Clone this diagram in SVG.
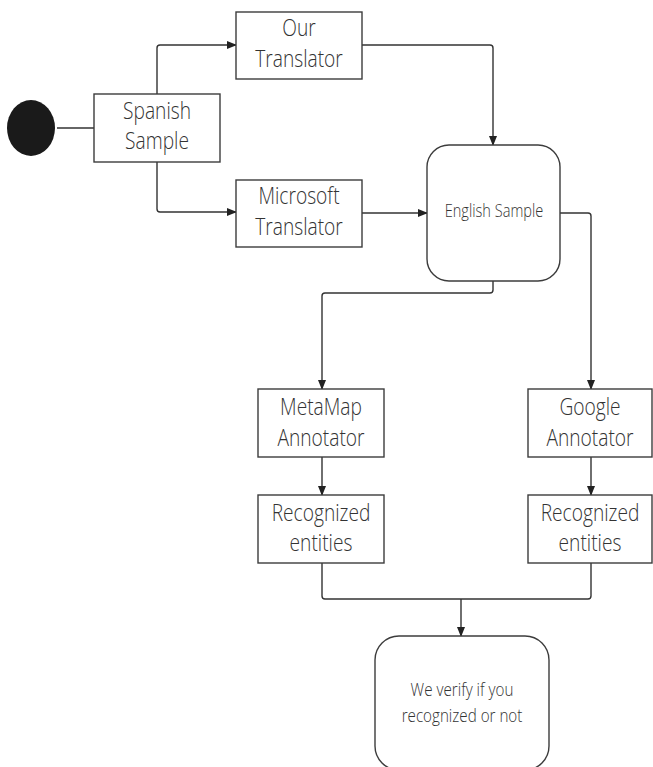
<svg xmlns="http://www.w3.org/2000/svg" width="653" height="767" viewBox="0 0 653 767">
<style>
.box{fill:#ffffff;stroke:#3c3c3c;stroke-width:1.4}
.t{font-family:"Open Sans","Liberation Sans",sans-serif;font-weight:350;font-size:19.2px;fill:#333333;text-anchor:middle}
.ts{font-family:"Open Sans","Liberation Sans",sans-serif;font-weight:350;font-size:14.6px;fill:#333333;text-anchor:middle}
.tm{font-family:"Open Sans","Liberation Sans",sans-serif;font-weight:350;font-size:15.2px;fill:#333333;text-anchor:middle}
.c{fill:none;stroke:#333333;stroke-width:1.4;stroke-linejoin:round}
</style>
<defs>
<marker id="arr" markerWidth="10" markerHeight="8" refX="9" refY="4" orient="auto" markerUnits="userSpaceOnUse">
<path d="M0,0 L10,4 L0,8 Z" fill="#222222"/>
</marker>
</defs>
<rect width="653" height="767" fill="#ffffff"/>
<g id="connectors">
<path class="c" d="M57,128 L94,128"/>
<path class="c" d="M157,94 L157,48 Q157,45 160,45 L236,45" marker-end="url(#arr)"/>
<path class="c" d="M157,162 L157,209 Q157,212 160,212 L236,212" marker-end="url(#arr)"/>
<path class="c" d="M362,45 L490,45 Q493,45 493,48 L493,145" marker-end="url(#arr)"/>
<path class="c" d="M362,213 L427,213" marker-end="url(#arr)"/>
<path class="c" d="M560,213 L588,213 Q591,213 591,216 L591,389" marker-end="url(#arr)"/>
<path class="c" d="M493,281 L493,290 Q493,293 490,293 L325,293 Q322,293 322,296 L322,389" marker-end="url(#arr)"/>
<path class="c" d="M322,457 L322,495" marker-end="url(#arr)"/>
<path class="c" d="M591,457 L591,495" marker-end="url(#arr)"/>
<path class="c" d="M322,563 L322,596 Q322,599 325,599 L588,599 Q591,599 591,596 L591,563"/>
<path class="c" d="M461,599 L461,636" marker-end="url(#arr)"/>
</g>
<g id="start">
<ellipse cx="31" cy="128" rx="24" ry="28" fill="#1a1a1a"/>
</g>
<g id="spanish">
<rect class="box" x="94" y="94" width="126" height="68"/>
<text class="t" transform="translate(157,119) scale(1,1.24)">Spanish</text>
<text class="t" transform="translate(157,149) scale(1,1.24)">Sample</text>
</g>
<g id="our">
<rect class="box" x="236" y="12" width="126" height="67"/>
<text class="t" transform="translate(299,36) scale(1,1.24)">Our</text>
<text class="t" transform="translate(299,67) scale(1,1.24)">Translator</text>
</g>
<g id="microsoft">
<rect class="box" x="236" y="180" width="126" height="67"/>
<text class="t" transform="translate(299,204) scale(1,1.24)">Microsoft</text>
<text class="t" transform="translate(299,235) scale(1,1.24)">Translator</text>
</g>
<g id="english">
<rect class="box" x="427" y="145" width="133" height="136" rx="22" ry="22"/>
<text class="ts" transform="translate(494,217) scale(1,1.24)">English Sample</text>
</g>
<g id="metamap">
<rect class="box" x="258" y="389" width="126" height="68"/>
<text class="t" transform="translate(321,415) scale(1,1.24)">MetaMap</text>
<text class="t" transform="translate(321,446) scale(1,1.24)">Annotator</text>
</g>
<g id="google">
<rect class="box" x="528" y="389" width="124" height="68"/>
<text class="t" transform="translate(590,415) scale(1,1.24)">Google</text>
<text class="t" transform="translate(590,446) scale(1,1.24)">Annotator</text>
</g>
<g id="recognized1">
<rect class="box" x="258" y="495" width="126" height="68"/>
<text class="t" transform="translate(321,521) scale(1,1.24)">Recognized</text>
<text class="t" transform="translate(321,551) scale(1,1.24)">entities</text>
</g>
<g id="recognized2">
<rect class="box" x="528" y="495" width="124" height="68"/>
<text class="t" transform="translate(590,521) scale(1,1.24)">Recognized</text>
<text class="t" transform="translate(590,551) scale(1,1.24)">entities</text>
</g>
<g id="verify">
<rect class="box" x="375" y="636" width="174" height="134" rx="24" ry="24"/>
<text class="tm" transform="translate(462,696) scale(1,1.24)">We verify if you</text>
<text class="tm" transform="translate(462,722) scale(1,1.24)">recognized or not</text>
</g>
</svg>
